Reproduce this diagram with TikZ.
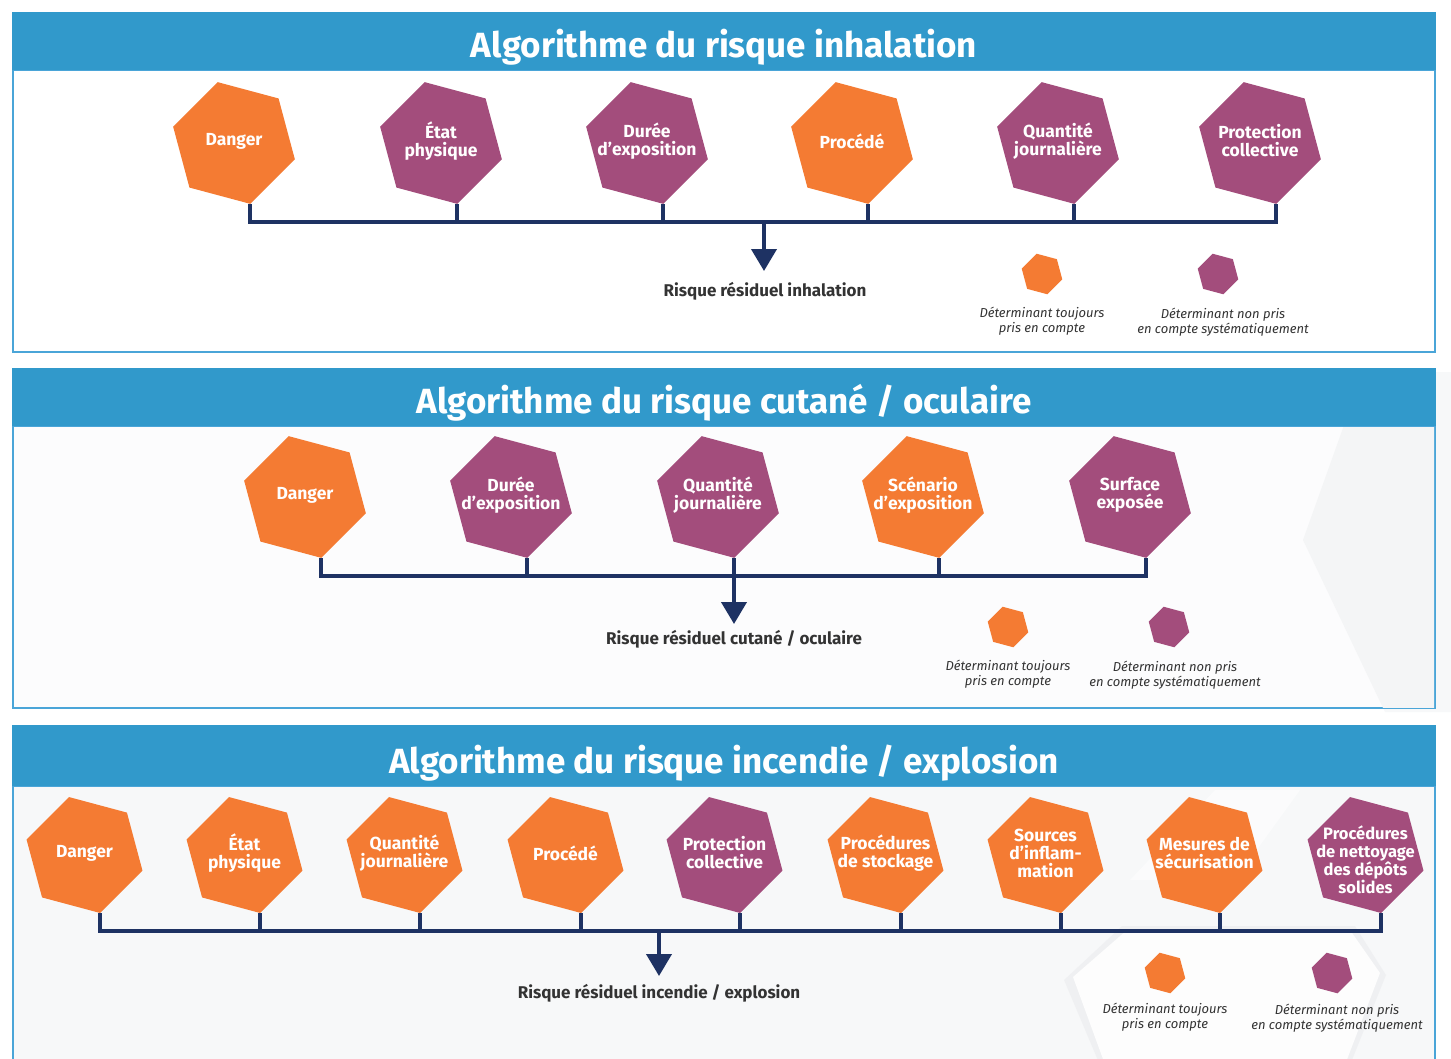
\documentclass[tikz,border=0pt]{standalone}
\usepackage{fontspec}
\setmainfont{Fira Sans}
\usetikzlibrary{calc,arrows.meta}
\definecolor{hdr}{HTML}{3199CB}
\definecolor{brd}{HTML}{4AA5D8}
\definecolor{org}{HTML}{F47B33}
\definecolor{pur}{HTML}{A34D7C}
\definecolor{navy}{HTML}{1E3263}
\definecolor{txt}{HTML}{333333}
\definecolor{bgA}{HTML}{F7F8F9}
\definecolor{bgB}{HTML}{EDEEF0}
\definecolor{bgC}{HTML}{F4F5F6}
\newcommand\hexa[7][0]{%
  \fill[#6,shift={(#3,#4)}] (45:#5pt) -- (105:#5pt) -- (165:#5pt) -- (225:#5pt) -- (285:#5pt) -- (345:#5pt) -- cycle;
  \node[hextext] (#2) at ({#3},{#4-2+#1}) {#7};
  \path[shift={(#3,#4)}] (285:#5pt) coordinate (#2-b);
}
\tikzset{
  hextext/.style={text=white,font=\bfseries\fontsize{17.5}{18}\selectfont,align=center,inner sep=0pt},
  titletext/.style={text=white,font=\bfseries\fontsize{35}{38}\selectfont,inner sep=0pt},
  restext/.style={text=txt,font=\bfseries\fontsize{17}{20}\selectfont,inner sep=0pt},
  legtext/.style={text=txt,font=\itshape\fontsize{13}{15.5}\selectfont,align=center,inner sep=0pt},
  bus/.style={draw=navy,line width=4pt,line join=miter},
  arr/.style={draw=navy,line width=4pt,-{Triangle[width=25pt,length=22pt]}},
  header/.style={fill=hdr},
  body/.style={draw=brd,line width=2.5pt},
}
\begin{document}
\begin{tikzpicture}[x=1pt,y=-1pt]
\useasboundingbox (0,0) rectangle (1451,1058);
\fill[white] (0,0) rectangle (1451,1058);

% ---------- Panel 1 ----------
\draw[body,fill=white] (13,70) rectangle (1435,352);
\fill[header] (12,12) rectangle (1436,70);
\node[titletext] (t1) at (724,47) {Algorithme du risque inhalation};

\hexa{a1}{234}{143}{63}{org}{Danger}
\hexa{a2}{441}{143}{63}{pur}{État\\physique}
\hexa{a3}{647}{143}{63}{pur}{Durée\\d’exposition}
\hexa{a4}{852}{143}{63}{org}{Procédé}
\hexa{a5}{1058}{143}{63}{pur}{Quantité\\journalière}
\hexa{a6}{1260}{143}{63}{pur}{Protection\\collective}
\coordinate (bus1) at (764,222);
\coordinate (tip1) at (764,271);
\draw[bus] (a1-b) |- (a6-b |- bus1) -- (a6-b);
\foreach \n in {a2,a3,a4,a5} \draw[bus] (\n-b) -- (\n-b |- bus1);
\draw[arr] (bus1) -- (tip1);
\node[restext] (r1) at (765,291) {Risque résiduel inhalation};
\hexa{l1o}{1042}{274}{21}{org}{}
\hexa{l1p}{1218}{274}{21}{pur}{}
\node[legtext] (g1o) at (1042,321) {Déterminant toujours\\pris en compte};
\node[legtext] (g1p) at (1223,322) {Déterminant non pris\\en compte systématiquement};

% ---------- Panel 2 ----------
\fill[bgA] (1363,372) -- (1303,540) -- (1385,712) -- (1451,712) -- (1451,372) -- cycle;
\draw[body,fill=white!60!bgA] (13,426) rectangle (1435,708);
\begin{scope}
\clip (14,427) rectangle (1434,707);
\fill[bgC] (1363,372) -- (1303,540) -- (1385,712) -- (1451,712) -- (1451,372) -- cycle;
\end{scope}
\fill[header] (12,368) rectangle (1436,426);
\node[titletext] (t2) at (724,403) {Algorithme du risque cutané / oculaire};

\hexa{b1}{305}{497}{63}{org}{Danger}
\hexa{b2}{511}{497}{63}{pur}{Durée\\d’exposition}
\hexa{b3}{718}{497}{63}{pur}{Quantité\\journalière}
\hexa{b4}{923}{497}{63}{org}{Scénario\\d’exposition}
\hexa{b5}{1130}{497}{63}{pur}{Surface\\exposée}
\coordinate (bus2) at (734,576);
\coordinate (tip2) at (734,624);
\draw[bus] (b1-b) |- (b5-b |- bus2) -- (b5-b);
\foreach \n in {b2,b3,b4} \draw[bus] (\n-b) -- (\n-b |- bus2);
\draw[arr] (bus2) -- (tip2);
\node[restext] (r2) at (734,639) {Risque résiduel cutané / oculaire};
\hexa{l2o}{1008}{627}{21}{org}{}
\hexa{l2p}{1169}{627}{21}{pur}{}
\node[legtext] (g2o) at (1008,674) {Déterminant toujours\\pris en compte};
\node[legtext] (g2p) at (1175,675) {Déterminant non pris\\en compte systématiquement};

% ---------- Panel 3 ----------
\draw[body,fill=bgA] (13,786) rectangle (1435,1070);
\begin{scope}
\clip (14,787) rectangle (1434,1070);
\fill[bgB,opacity=0.7] (1064,980) -- (1122,926) -- (1355,926) -- (1386,975) -- (1348,1070) -- (1102,1070) -- cycle;
\fill[white!70!bgA] (1073,977) -- (1127,930) -- (1350,930) -- (1380,973) -- (1343,1070) -- (1107,1070) -- cycle;
\fill[white,opacity=0.5] (1130,880) -- (1215,790) -- (1300,790) -- (1235,880) -- cycle;
\end{scope}
\fill[header] (12,725) rectangle (1436,786);
\node[titletext] (t3) at (724,763) {Algorithme du risque incendie / explosion};

\hexa{c1}{84.5}{855}{60}{org}{Danger}
\hexa{c2}{244.5}{855}{60}{org}{État\\physique}
\hexa{c3}{404.5}{855}{60}{org}{Quantité\\journalière}
\hexa{c4}{565.5}{855}{60}{org}{Procédé}
\hexa{c5}{724.5}{855}{60}{pur}{Protection\\collective}
\hexa{c6}{885.5}{855}{60}{org}{Procédures\\de stockage}
\hexa{c7}{1045.5}{855}{60}{org}{Sources\\d’inflam-\\mation}
\hexa{c8}{1204.5}{855}{60}{org}{Mesures de\\sécurisation}
\hexa[7]{c9}{1365.5}{855}{60}{pur}{\fontsize{16.5}{18}\selectfont Procédures\\\fontsize{16.5}{18}\selectfont de nettoyage\\\fontsize{16.5}{18}\selectfont des dépôts\\\fontsize{16.5}{18}\selectfont solides}
\coordinate (bus3) at (659,931);
\coordinate (tip3) at (659,976);
\draw[bus] (c1-b) |- (c9-b |- bus3) -- (c9-b);
\foreach \n in {c2,c3,c4,c5,c6,c7,c8} \draw[bus] (\n-b) -- (\n-b |- bus3);
\draw[arr] (bus3) -- (tip3);
\node[restext] (r3) at (659,993) {Risque résiduel incendie / explosion};
\hexa{l3o}{1165}{973}{21}{org}{}
\hexa{l3p}{1332}{973}{21}{pur}{}
\node[legtext] (g3o) at (1165,1017) {Déterminant toujours\\pris en compte};
\node[legtext] (g3p) at (1337,1018) {Déterminant non pris\\en compte systématiquement};
\end{tikzpicture}
\end{document}
